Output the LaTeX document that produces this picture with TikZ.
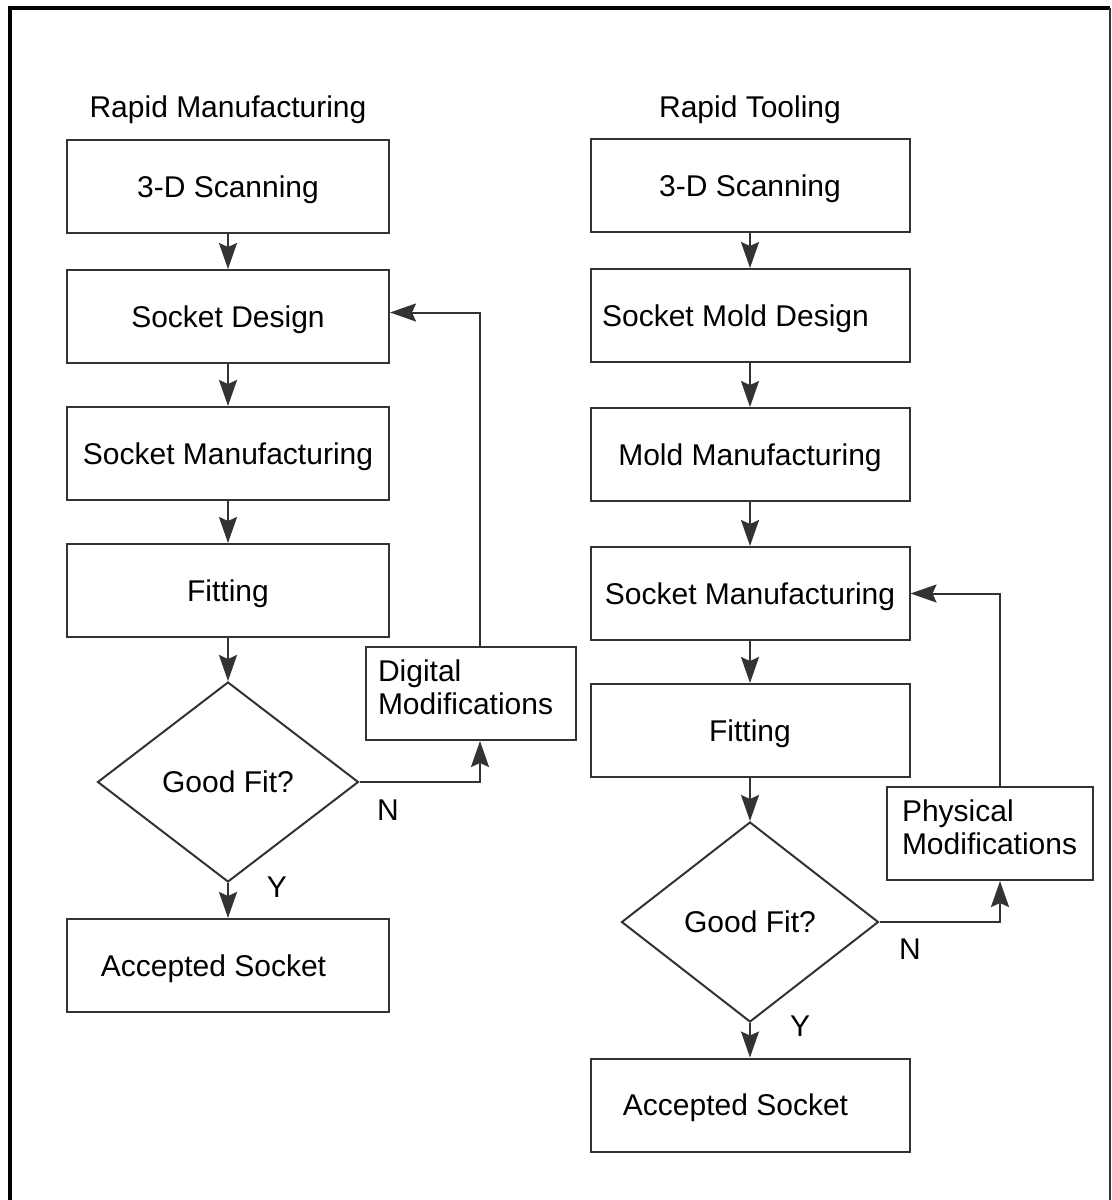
\documentclass[tikz,border=0pt]{standalone}
\usepackage{fontspec}
\setmainfont{Liberation Sans}
\usepackage{tikz}
\usetikzlibrary{arrows.meta, shapes.geometric}
\definecolor{linegray}{HTML}{333333}

\begin{document}
\begin{tikzpicture}[x=0.5pt, y=-0.5pt]
  \begin{scope}[every node/.style={font=\fontsize{15}{16.5}\selectfont, text=black, text depth=0pt},
      stepbox/.style={draw=linegray, line width=1pt, minimum width=161pt, minimum height=46.5pt, inner sep=0},
      stepboxR/.style={stepbox, minimum width=159.5pt},
      modbox/.style={draw=linegray, line width=1pt, align=left, minimum height=46.5pt, inner xsep=6pt, text depth=22.5pt},
      fitcheck/.style={draw=linegray, line width=1pt, diamond, minimum width=130.5pt, minimum height=100pt, inner sep=0},
      flow/.style={draw=linegray, line width=1pt, -{Stealth[length=13pt, width=9pt, inset=2pt]}}]
    \useasboundingbox (0,0) rectangle (1112,1200);
    \draw [line width=2pt] (10,1200) -- (10,8) -- (1110,8);
    \draw [linegray, line width=1pt] (1110,8) -- (1110,1200);
    \begin{scope}
      \node (titleL) at (228,107) {Rapid Manufacturing};
      \node [stepbox] (scanL) at (228,186.5) {3-D Scanning};
      \node [stepbox] (designL) at (228,316.5) {Socket Design};
      \node [stepbox] (manuL) at (228,453.5) {Socket Manufacturing};
      \node [stepbox] (fitL) at (228,590.5) {Fitting};
      \node [fitcheck] (goodL) at (228,782) {Good Fit?};
      \node [stepbox] (doneL) at (228,965.5) {Accepted Socket\hspace*{14.5pt}};
      \node [modbox, text width=93pt] (digiL) at (471,693.5) {Digital\\Modifications};
      \node (noL) at (388,810) {N};
      \node (yesL) at (277,887.5) {Y};
      \foreach \a/\b in {scanL/designL, designL/manuL, manuL/fitL, fitL/goodL, goodL/doneL} {\draw [flow] (\a) -- (\b);}
      \draw [flow] (goodL.east) -| ([xshift=4.5pt]digiL.south);
      \draw [flow] ([xshift=4.5pt]digiL.north) |- ([yshift=2pt]designL.east);
    \end{scope}
    \begin{scope}
      \node (titleR) at (750,107) {Rapid Tooling};
      \node [stepboxR] (scanR) at (750,185.5) {3-D Scanning};
      \node [stepboxR] (moldR) at (750,315.5) {Socket Mold Design\hspace*{14.5pt}};
      \node [stepboxR] (mmanR) at (750,454.5) {Mold Manufacturing};
      \node [stepboxR] (smanR) at (750,593.5) {Socket Manufacturing};
      \node [stepboxR] (fitR) at (750,730.5) {Fitting};
      \node [fitcheck, minimum width=128.5pt] (goodR) at (750,922) {Good Fit?};
      \node [stepboxR] (doneR) at (750,1105) {Accepted Socket\hspace*{14.5pt}};
      \node [modbox, inner xsep=7.5pt, text width=88pt] (physR) at (990,833.5) {Physical\\Modifications};
      \node (noR) at (910,949) {N};
      \node (yesR) at (800,1026) {Y};
      \foreach \a/\b in {scanR/moldR, moldR/mmanR, mmanR/smanR, smanR/fitR, fitR/goodR, goodR/doneR} {\draw [flow] (\a) -- (\b);}
      \draw [flow] (goodR.east) -| ([xshift=5pt]physR.south);
      \draw [flow] ([xshift=5pt]physR.north) |- (smanR.east);
    \end{scope}
  \end{scope}
\end{tikzpicture}
\end{document}
